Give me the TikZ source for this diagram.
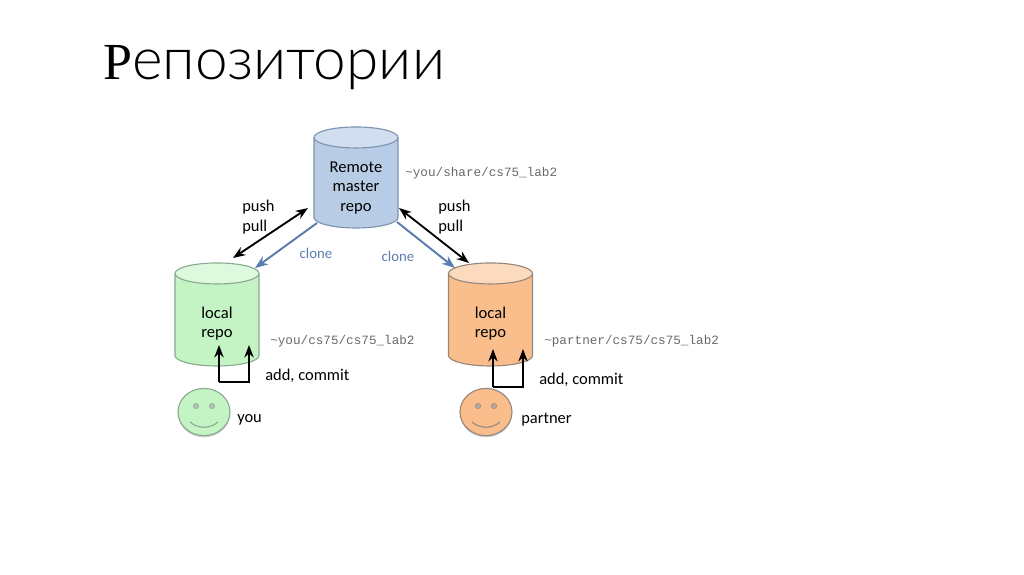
\documentclass[tikz,border=0pt]{standalone}
\usepackage{fontspec}
\usepackage{tikz}
\usetikzlibrary{arrows.meta,shapes.geometric,shadows}
\setmainfont{Carlito}
\setmonofont{Liberation Mono}
\newfontfamily\titlefont[UprightFont=* Light]{Lato}
\newfontfamily\capfont{Liberation Serif}
\definecolor{RemoteBody}{RGB}{184,205,229}
\definecolor{RemoteTop}{RGB}{208,222,240}
\definecolor{RemoteLine}{RGB}{125,148,178}
\definecolor{YouBody}{RGB}{196,243,196}
\definecolor{YouTop}{RGB}{222,250,222}
\definecolor{YouLine}{RGB}{140,170,145}
\definecolor{PartnerBody}{RGB}{250,190,140}
\definecolor{PartnerTop}{RGB}{252,218,190}
\definecolor{PartnerLine}{RGB}{150,135,125}
\definecolor{CloneBlue}{RGB}{90,125,175}
\definecolor{PathGray}{RGB}{105,105,105}
\tikzset{
  softshadow/.style={drop shadow={opacity=.2,shadow xshift=0pt,shadow yshift=-1.2pt,fill=black}},
  repo/.style={cylinder,shape border rotate=90,aspect=.35,draw=#1Line,line width=.8pt,
    cylinder uses custom fill,cylinder body fill=#1Body,cylinder end fill=#1Top,
    minimum width=2.1cm,inner sep=0pt,text width=1.5cm,text height=1.2cm},
  repotext/.style={inner sep=0pt,align=center,font=\fontsize{11.8}{13.9}\selectfont},
  face/.style={ellipse,draw=#1Line,fill=#1Body,line width=.8pt,softshadow,minimum width=1.3cm,minimum height=1.18cm,inner sep=0pt},
  eye/.style={circle,draw=#1Line,fill=#1Line!70,inner sep=0pt,minimum size=.13cm},
  smile/.style={draw=#1Line,line width=.8pt},
  lab/.style={inner sep=0pt,anchor=west,font=\fontsize{11.7}{14}\selectfont},
  clonelab/.style={inner sep=0pt,text=CloneBlue,font=\fontsize{10.5}{12}\selectfont},
  pathlab/.style={inner sep=0pt,anchor=west,text=PathGray,font=\ttfamily\fontsize{9}{10}\selectfont},
  sync/.style={Stealth-Stealth,black,line width=1.3pt},
  clonearrow/.style={-Stealth,CloneBlue,line width=1.4pt},
  commit/.style={-Stealth,black,line width=1.3pt},
}
\begin{document}
\begin{tikzpicture}[x=0.025cm,y=-0.025cm]
\useasboundingbox (0,0) rectangle (1024,574);
\node[inner sep=0pt,anchor=base west] (title) at (103,79) {{\capfont\fontsize{37}{40}\selectfont Р}{\titlefont\fontsize{41.6}{40}\selectfont епозитории}};
% repositories
\node[repo=Remote,minimum height=2.525cm] (remote) at (356,183) {};
\node[repo=You,minimum height=2.575cm] (localyou) at (217,320) {};
\node[repo=Partner,minimum height=2.575cm] (localpartner) at (490.5,320) {};
\node[repotext] (remotetext) at (356,188) {Remote\\master\\repo};
\node[repotext] (localyoutext) at (217,323.5) {local\\repo};
\node[repotext] (localpartnertext) at (490.5,323.5) {local\\repo};
% arrow ends
\coordinate (syncla) at (308,208);
\coordinate (synclb) at (233,258);
\coordinate (syncra) at (399,208);
\coordinate (syncrb) at (469,263);
\coordinate (clonela) at (317,223);
\coordinate (clonelb) at (255,268);
\coordinate (clonera) at (397,222);
\coordinate (clonerb) at (455,268);
\draw[sync] (syncla)--(synclb);
\draw[sync] (syncra)--(syncrb);
\draw[clonearrow] (clonela)--(clonelb);
\draw[clonearrow] (clonera)--(clonerb);
% faces
\node[face=You] (faceyou) at (204,412) {};
\node[face=Partner] (facepartner) at (486,412) {};
\node[eye=You] (eyeya) at (196,406) {};
\node[eye=You] (eyeyb) at (212,406) {};
\node[eye=Partner] (eyepa) at (478,406) {};
\node[eye=Partner] (eyepb) at (494,406) {};
\coordinate (smileya) at (190,422);
\coordinate (smileyb) at (218,422);
\coordinate (smilepa) at (472,422);
\coordinate (smilepb) at (500,422);
\draw[smile=You] (smileya) .. controls (198,429) and (210,429) .. (smileyb);
\draw[smile=Partner] (smilepa) .. controls (480,429) and (492,429) .. (smilepb);
% add, commit
\coordinate (commitya) at (219,345);
\coordinate (commityb) at (249,345);
\coordinate (commitpa) at (493,349);
\coordinate (commitpb) at (523,349);
\draw[commit] (219,382) -- (commitya);
\draw[commit] (219,382) -- (249,382) -- (commityb);
\draw[commit] (493,387) -- (commitpa);
\draw[commit] (493,387) -- (523,387) -- (commitpb);
% labels
\node[lab] (pushl) at (242,207) {push};
\node[lab] (pulll) at (242,227) {pull};
\node[lab] (pushr) at (438,207) {push};
\node[lab] (pullr) at (438,227) {pull};
\node[clonelab] (clonel) at (316,253) {clone};
\node[clonelab] (cloner) at (398,256) {clone};
\node[pathlab] (pathremote) at (405,173) {\textasciitilde you/share/cs75\_lab2};
\node[pathlab] (pathyou) at (270,341) {\textasciitilde you/cs75/cs75\_lab2};
\node[pathlab] (pathpartner) at (544,341) {\textasciitilde partner/cs75/cs75\_lab2};
\node[lab] (addyou) at (265,376) {add, commit};
\node[lab] (addpartner) at (539,380) {add, commit};
\node[lab] (you) at (237,420) {you};
\node[lab] (partner) at (521,420) {partner};
\end{tikzpicture}
\end{document}
